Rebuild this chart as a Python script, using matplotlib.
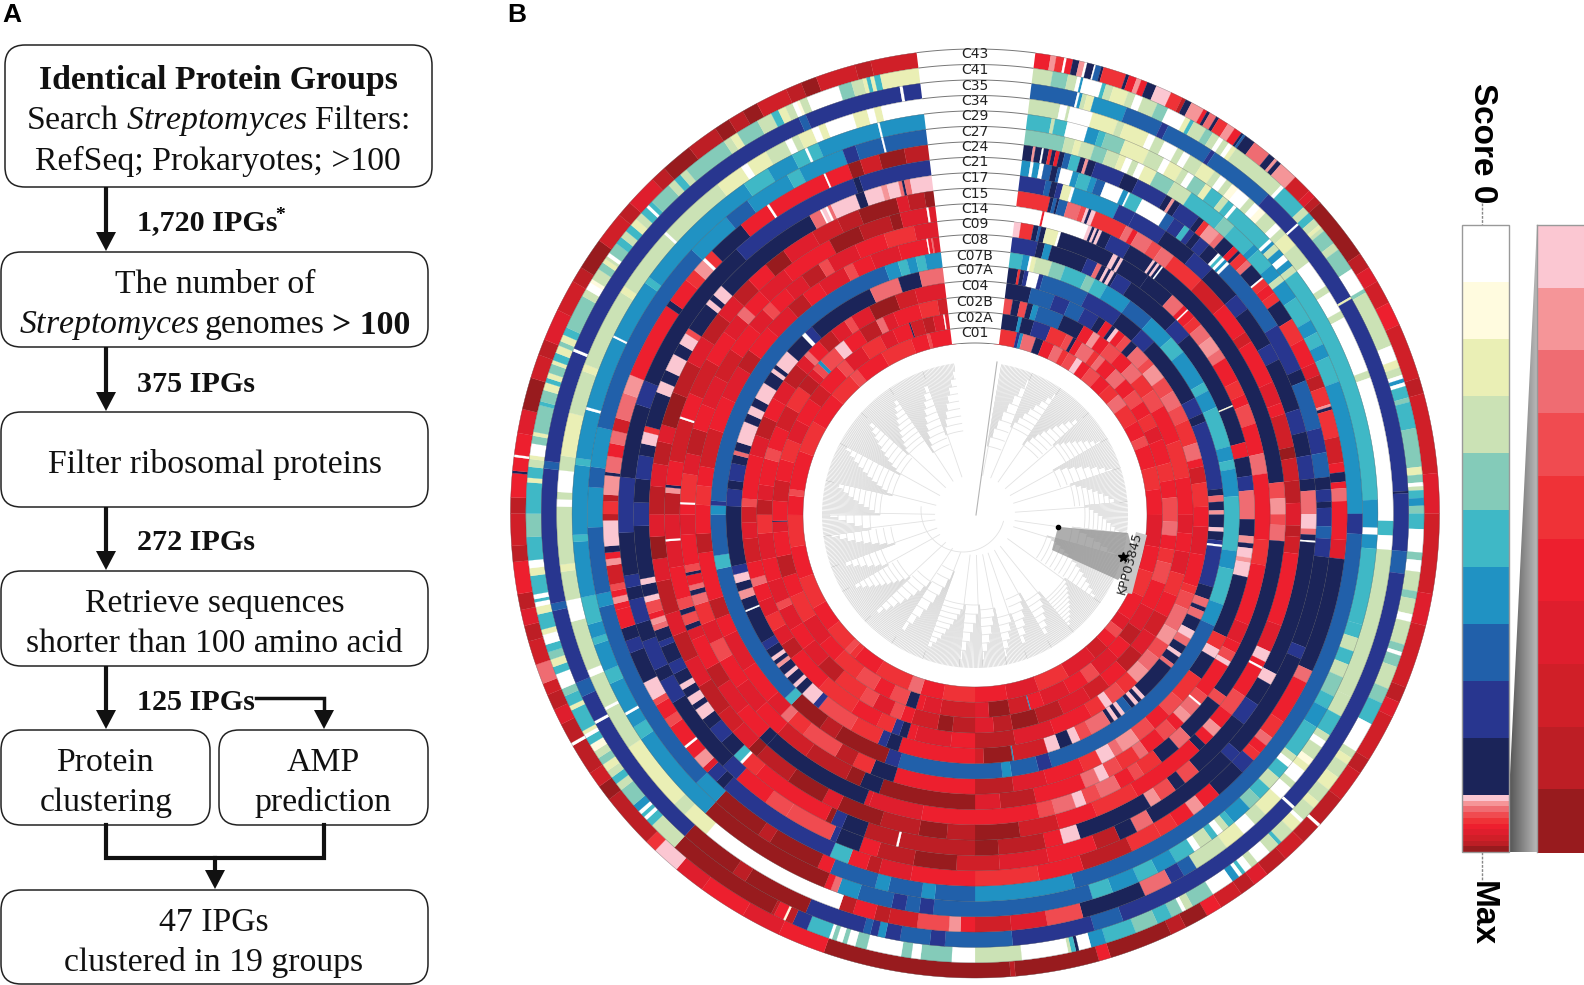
import numpy as np
import matplotlib
matplotlib.use('Agg')
import matplotlib.pyplot as plt
from matplotlib.collections import PolyCollection, LineCollection
from matplotlib.patches import FancyBboxPatch, Polygon, Rectangle

plt.rcParams['font.family'] = ['Liberation Serif', 'DejaVu Sans']
plt.rcParams['mathtext.fontset'] = 'custom'
plt.rcParams['mathtext.rm'] = 'Liberation Serif'
plt.rcParams['mathtext.it'] = 'Liberation Serif:italic'
plt.rcParams['mathtext.bf'] = 'Liberation Serif:bold'

# score scale: 0-9 cool steps, 10-19 red steps (the zoomed part of the colour bar)
COOL = ['#FFFFFF', '#FFFBDF', '#EAEFB5', '#CBE2B5', '#84CBB9', '#3FB8C6', '#2092C3', '#2160AA', '#28368F', '#1B2459']
REDS = ['#FBC7D2', '#F59598', '#EF6C72', '#F04B50', '#EF3237', '#ED1F2E', '#DF1E2D', '#D01F28', '#BD1E25', '#981B1E']

RING_NAMES = ['C43', 'C41', 'C35', 'C34', 'C29', 'C27', 'C24', 'C21', 'C17', 'C15', 'C14', 'C09', 'C08', 'C07B',
              'C07A', 'C04', 'C02B', 'C02A', 'C01']

# every ring: (start angle clockwise from north, score level)
C43 = [(8,15),(9.4,11),(10.1,14),(11.1,0),(11.4,15),(12.2,9),(13,11),(13.7,0),(14,9),(14.9,0),(15.1,7),(15.8,9),(16.1,14),(19,9),(19.4,15),(20.4,11),(21,15),(21.8,9),(23,10),(25,14),(26.5,18),(27,9),(27.8,11),(29.5,15),(30,9),(30.4,12),(31.3,9),(31.7,14),(33,11),(34,15),(35,9),(35.3,7),(35.6,9),(37,12),(39.3,9),(40.2,11),(40.6,9),(41.2,11),(43.6,17),(46,16),(47,18),(48,19),(56,18),(58,16),(60,17),(63,15),(66,17),(73,18),(75,17),(85,16),(90,17),(100,16),(104,17),(112,18),(114,16),(116,17),(122,18),(124,17),(128,18),(132,0),(132.4,18),(135,17),(138,18),(141,16),(143,18),(145,17),(148,15),(150,19),(153,18),(155,19),(163,15),(164.5,19),(175,18),(175.6,19),(199,15),(205,16),(210,15),(216,16),(220,10),(223.5,14),(225,18),(232,19),(234,17),(236,18),(240,0),(240.4,18),(243,16),(245,18),(247,17),(248.5,12),(251,17),(254,18),(256,16),(258,18),(260,15),(264,18),(266,17),(270,18),(272,15),(275,9),(275.3,15),(277,0),(277.3,15),(280,16),(283,19),(287,17),(290,18),(292,16),(296,17),(300,18),(302,19),(306,17),(310,18),(312,16),(316,18),(318,19),(322,18),(326,19),(328,18),(330,19),(332,17),(336,18),(338,19),(340,17),(345,18),(347,17)]
C41 = [(8,3),(10,4),(12,3),(13.2,0),(13.7,6),(14,0),(16.5,5),(17,3),(18,2),(20,3),(21,0),(22,3),(24,4),(25.5,0),(28,2),(28.7,5),(29.2,3),(31,4),(32,3),(33,0),(33.6,3),(34.4,0),(35,2),(35.6,3),(43,0),(43.5,5),(47,3),(48,5),(49,3),(50,2),(50.5,3),(51,4),(53,3),(54,4),(57,0),(60,4),(60.5,3),(68,0),(70,2),(71,3),(72,0),(72.5,6),(73,0),(73.5,5),(75,4),(75.6,5),(79,4),(84,2),(85,4),(86,0),(86.5,3),(87,5),(88,6),(89,4),(90,5),(92,0),(95,4),(96,0),(97.5,3),(100,4),(101,3),(103,0),(104,3),(107,4),(108,0),(108.5,4),(110,3),(113,4),(115,5),(118,0),(122,3),(123,2),(124,3),(126,2),(128,3),(130,2),(131,3),(133,0),(133.5,2),(135,3),(137,5),(137.5,3),(139,0),(141,3),(142,0),(143,5),(143.5,0),(144,6),(145,0),(148,4),(151,3),(152,0),(152.5,4),(154,5),(156,4),(159,5),(163,6),(165,0),(166.6,9),(167,5),(167.6,3),(168,0),(174,3),(180,0),(183,4),(187,0),(188.2,4),(189.5,0),(194,4),(195.5,0),(196.6,4),(197.2,0),(198,4),(198.6,0),(199,5),(202,8),(204,18),(205,1),(205.3,15),(206.6,18),(207,19),(222,3),(226,5),(227,0),(227.5,5),(228,0),(228.5,6),(229.5,4),(232,3),(233,5),(234,3),(235,2),(236,4),(237,3),(238,1),(239,5),(240,0),(240.5,2),(241,5),(244,2),(244.6,5),(246,4),(247,0),(249,5),(250,2),(251,4),(252,5),(253,0),(254.3,2),(255,5),(257,2),(258,0),(258.6,5),(259,0),(259.6,5),(262,2),(263,0),(264,5),(267,4),(270,5),(274,2),(274.6,5),(276,3),(277,2),(277.5,0),(279,4),(280,2),(280.5,4),(284,5),(284.5,4),(286,2),(287,5),(287.6,2),(288.3,4),(289.5,2),(290,5),(291,2),(292,4),(292.6,2),(293.5,5),(294.5,4),(299,3),(300,0),(301,1),(301.5,3),(303,4),(304,2),(304.6,3),(305,0),(305.5,4),(307,5),(308,3),(309,5),(310,2),(311,3),(312,5),(313,0),(313.4,5),(314,4),(317,3),(318,5),(319,3),(320,4),(326,3),(327,2),(328,4),(331,3),(333,5),(334,2),(335,3),(336,0),(336.6,1),(337,3),(338,0),(342.3,4),(344,3),(345.5,2),(346,5),(346.5,2),(347,5),(347.8,2)]
C35 = [(8,7),(13.7,0),(14,6),(14.4,3),(15,2),(16,6),(20.5,7),(25.6,8),(26.5,7),(33,8),(33.6,7),(42.6,8),(48,0),(48.3,8),(60,2),(60.3,8),(87,9),(87.3,8),(95,7),(98,8),(132.5,0),(132.9,8),(160,7),(164,8),(175,7),(184,8),(186,7),(190,8),(192,6),(193,8),(194,7),(195,8),(203,19),(212,18),(214,19),(222,8),(241,0),(241.4,8),(245,7),(247,8),(257,7),(258,8),(276,7),(277,8),(292,0),(292.4,8),(336,7),(337,8),(350,0),(350.4,8)]
C34 = [(8,3),(11.8,0),(12.8,3),(13.2,0),(16.4,2),(20,3),(21,2),(24.6,0),(25.6,3),(27,0),(29,3),(30,0),(31,3),(33,2),(35,3),(36,0),(37,3),(38,1),(39,0),(41,3),(42,0),(43,1),(44,3),(46,0),(47,3),(48,2),(50,3),(53,0),(57,3),(58,0),(61,3),(62,0),(70,3),(71,0),(91,5),(93,0),(95,3),(116,3),(119,5),(122,3),(123,0),(124,3),(126,1),(127,2),(128,0),(130,3),(131,0),(133,2),(136,3),(138,0),(140,2),(143,3),(148,7),(150,8),(152,12),(156,9),(165,13),(170,16),(175,17),(180,15),(182,11),(183.6,13),(188,17),(192,18),(194,15),(197,18),(199,0),(220,2),(224,3),(226,2),(236,3),(242,0),(242.4,3),(247,0),(248,3),(255,0),(258,3),(262,2),(263,3),(271,0),(272,3),(273,0),(276,3),(278,2),(284,3),(290,2),(291,3),(302,2),(303,3),(312,0),(312.4,3),(322,2),(326,0),(327,2),(330,3),(333,0),(334,3),(335,2),(337,0),(338,2),(339,0),(343,2),(345,0),(346,2),(347,0)]
C29 = [(8,5),(11,3),(11.5,5),(13.3,0),(16.3,6),(18,5),(19,4),(21.9,2),(25.6,3),(28,0),(29,2),(31,3),(32,0),(33,4),(35,2),(36,5),(38,3),(39,5),(40,0),(40.5,5),(47,0),(47.5,6),(48,3),(49,6),(50,0),(51,6),(52,3),(53,5),(88,6),(92,0),(93,6),(95,5),(106,5),(108,3),(110,5),(112,3),(114,4),(117,5),(119,6),(122,5),(127,3),(128,0),(129,5),(131,3),(133,5),(135,4),(137,6),(140,5),(141,3),(142,0),(143,5),(144,3),(146,0),(147,5),(150,6),(153,5),(156,6),(160,5),(163,7),(186,8),(188,7),(190,8),(192,7),(197,6),(200,12),(201,15),(202,19),(222,6),(236,5),(238,6),(240,0),(240.4,6),(245,5),(247,6),(251,5),(252,6),(254,5),(258,6),(266,5),(267,6),(277,5),(278,6),(285,0),(285.4,6),(296,0),(296.3,6),(305,5),(306,6),(325,5),(329,6),(333,5),(335,0),(335.4,5),(337,6),(346,0),(346.3,6)]
C27 = [(8,4),(13.5,3),(15,2),(16,3),(18,4),(20,3),(22,2),(23,0),(24,3),(25,0),(26,2),(28,4),(31,3),(34,5),(40,4),(42,5),(46,6),(47,5),(50,6),(52,3),(53,6),(56,5),(60,6),(62,5),(64,6),(66,5),(70,6),(90,8),(93,7),(165,6),(180,7),(186,6),(188,7),(193,6),(195,7),(202,15),(204,19),(212,18),(214,19),(222,6),(226,7),(256,6),(258,7),(268,6),(274,7),(277,6),(283,7),(313,6),(320,7),(324,6),(331,5),(333,6),(340,8),(342,7),(346,0),(346.3,7)]
C24 = [(8,9),(9,11),(9.4,9),(10.4,0),(10.7,9),(11.5,14),(12,9),(12.6,15),(13.2,9),(14,7),(15,5),(16.5,9),(17.3,11),(17.8,9),(19,8),(23.7,9),(26,8),(31,9),(32,11),(32.5,9),(33.5,8),(37,9),(38,14),(39,11),(41,12),(42,9),(44,15),(45,9),(45.5,14),(47,12),(48,9),(50.5,0),(50.8,14),(52,15),(53.5,14),(55,9),(58.4,14),(62,15),(66,16),(68,18),(70,14),(72.8,11),(73.2,9),(73.7,14),(78,17),(82,15),(83.5,9),(85,15),(86,12),(88,15),(94,16),(97,9),(115,12),(117,15),(124,14),(127,12),(128.5,15),(130,14),(131.5,8),(134,9),(139,15),(142,11),(144,15),(147,14),(150,14),(155,18),(163,15),(170,14),(180,15),(190,16),(195,18),(197,15),(200,5),(203,8),(222.5,9),(224,8),(226,16),(227,11),(229,15),(231,0),(231.4,15),(235,13),(236.5,15),(239,13),(240,10),(243,9),(248,8),(250,9),(252,15),(255,15),(256,11),(257,15),(258,13),(259,17),(262,11),(263,15),(264,9),(265,10),(269,18),(270,14),(272,18),(273,11),(276,9),(276.5,12),(279,15),(281,12),(283,17),(285,12),(289,11),(292,15),(304,9),(305,15),(309,14),(311,11),(313,0),(313.5,14),(315,9),(321,15),(326,0),(326.4,15),(336,0),(336.3,15),(340,19),(342,17),(345,19),(349,18)]
C21 = [(8,6),(9,0),(9.5,6),(10.5,0),(11.2,7),(12.5,9),(13.5,7),(14,0),(16,6),(17,5),(19,6),(20,7),(21.5,0),(24.6,6),(25.5,0),(25.8,5),(28,0),(32.5,7),(34,8),(36,5),(37,8),(38,9),(39.2,8),(41,9),(43,0),(43.5,5),(44,0),(44.5,6),(45,0),(45.5,7),(58,8),(66,9),(68,7),(76,8),(80,7),(84,9),(86,8),(88,9),(89,8),(92,7),(94,8),(97,9),(112,8),(114,9),(132,8),(134,9),(150,12),(153,9),(156,18),(160,15),(168,16),(176,17),(183,19),(190,18),(196,15),(199,9),(203,8),(204,13),(212,13),(216,15),(222,8),(225,9),(238,8),(242,9),(244,8),(249,9),(252,8),(256,9),(258,8),(260,9),(267,8),(276,9),(288,8),(292,9),(318,8),(340,9),(341,8)]
C17 = [(8,8),(12,7),(13,9),(14,8),(15,2),(16.5,0),(17,6),(25,8),(28,8),(34,9),(40,8),(44,9),(50,8),(53,9),(60,8),(63,9),(72,8),(76,9),(80,8),(84,9),(86,12),(90,10),(92.5,12),(93.5,9),(94.5,0),(94.8,9),(118,10),(120,9),(124,8),(128,9),(139,13),(142,9),(144,13),(147,11),(149,9),(162,10),(165,15),(168,18),(176,19),(180,18),(193,0),(193.4,18),(199,9),(203,8),(205,19),(206,15),(220,14),(223,0),(223.5,5),(225,9),(228,8),(231,9),(233,10),(235,9),(236,10),(237.5,9),(239,10),(240,9),(242,8),(244,9),(247,8),(248,9),(250,12),(251,11),(252,15),(253,13),(255,10),(256,9),(258,10),(259,9),(268,8),(272,9),(276,8),(280,9),(282,10),(284,14),(285,9),(291,10),(293,9),(295,10),(298,9),(300,10),(302,13),(303,9),(308,10),(309,9),(310,10),(312,9),(331,12),(333,0),(333.3,10),(334,0),(334.4,12),(335,10),(339.5,9),(341,10),(344,11),(345,10),(347,12),(347.6,9),(348,12),(349,10)]
C15 = [(8,14),(13.4,9),(14,7),(14.6,9),(15,7),(16.6,12),(19,13),(20,10),(20.5,9),(21,10),(21.8,14),(27.7,12),(29,15),(30,12),(33,13),(35,12),(37.6,14),(44,17),(50,15),(56,17),(58,15),(66,16),(70,15),(72,17),(78,19),(80,17),(84,18),(88,16),(92,18),(94,17),(97,15),(110,16),(115,10),(117,15),(118,0),(118.4,15),(124,13),(128,15),(131,11),(133,15),(135,9),(136.5,15),(150,14),(158,15),(165,17),(172,19),(180,18),(185,19),(190,18),(197,19),(205,16),(208,19),(215,18),(222,19),(224,16),(228,17),(232,18),(238,16),(243,18),(248,16),(252,18),(258,16),(262,19),(266,16),(270,18),(275,16),(279,18),(283,16),(286,19),(292,18),(298,16),(303,18),(308,16),(312,18),(316,15),(320,19),(324,16),(330,17),(335,18),(339,19),(346,16),(348,18),(351,19)]
C14 = [(8,0),(12.6,15),(13,0),(21.5,10),(22.2,9),(22.7,10),(23.2,9),(23.6,10),(24.2,9),(26,8),(30,9),(35,10),(35.5,9),(36,10),(36.5,9),(37,0),(37.3,9),(84,13),(87,11),(90,13),(92,12),(95,9),(126,13),(128,9),(136,12),(139,9),(143,14),(147,13),(149,15),(152,12),(156,13),(159,10),(161,12),(165,13),(168,15),(180,15),(190,16),(200,16),(201,9),(222,9),(224,15),(230,16),(236,18),(240,15),(246,16),(248,9),(249,13),(251,9),(252,13),(254,15),(260,16),(265,0),(265.4,16),(270,18),(274,11),(275,9),(275.5,15),(280,17),(288,0),(288.4,15),(293,17),(300,15),(306,16),(310,12),(312,15),(316,16),(322,15),(332,19),(338,18),(344,19),(346,16),(351,0),(351.4,16)]
C09 = [(8,10),(9,14),(11.5,9),(12.5,7),(13,9),(14,2),(16.5,0),(17,9),(28,10),(29,9),(29.6,10),(30.2,9),(36,9),(42,12),(45,15),(46,0),(46.3,15),(48,14),(50,12),(53,11),(56,12),(58,15),(63,14),(66,15),(68,13),(72,15),(78,12),(82,15),(95,14),(100,15),(112,16),(116,15),(118,13),(120,10),(121,15),(128,13),(130,0),(130.4,12),(133,11),(135,15),(137,13),(140,15),(144,12),(146,14),(150,13),(153,10),(155,12),(158,15),(168,18),(175,16),(180,19),(199,9),(203,19),(206,18),(215,17),(222,15),(228,16),(234,15),(240,13),(244,16),(248,14),(252,12),(254,9),(255,12),(256,15),(258,9),(258.6,13),(260,15),(266,16),(270,15),(272,0),(272.4,14),(278,16),(282,18),(287,15),(292,16),(298,17),(304,15),(310,16),(314,13),(316,15),(320,16),(324,18),(328,13),(330,16),(336,15),(342,14),(348,16)]
C08 = [(8,8),(13,9),(14.5,6),(16,9),(23.7,8),(26,12),(27,9),(28,10),(28.6,9),(29.2,10),(30,9),(30.6,8),(34,9),(46,8),(50,9),(67,1),(67.3,9),(75,15),(78,9),(82,8),(85,12),(91,9),(94.5,11),(96,9),(97,10),(99,11),(100,10),(103,9),(116,14),(119,10),(121,9),(126,14),(132,13),(136,15),(140,13),(144,11),(148,12),(150,10),(153,14),(157,15),(165,16),(172,18),(180,15),(197,9),(202,14),(206,18),(210,13),(218,14),(222,12),(224,16),(228,15),(236,16),(244,15),(248,18),(252,15),(262,18),(266,15),(272,14),(276,15),(280,17),(288,15),(295,16),(302,18),(306,15),(312,16),(318,18),(322,15),(326,16),(332,13),(334,15),(338,16),(344,15),(350,0),(350.3,15),(351,12),(351.3,16)]
C07B = [(8,5),(10.5,6),(12,0),(12.5,2),(13.5,3),(17,4),(20,5),(25,4),(27,5),(30,6),(36,7),(42,6),(48,5),(52,6),(60,5),(62,6),(66,5),(75,6),(78,5),(80,6),(86,5),(98,6),(102,5),(110,6),(115,7),(163,8),(166,7),(172,6),(174,7),(197,8),(200,19),(212,18),(216,19),(224,5),(226,7),(258,5),(261,7),(270,6),(272,8),(273,7),(340,6),(343,5),(345,6),(347,5),(349,6)]
C07A = [(8,9),(10,14),(10.6,9),(11.5,8),(12.5,0),(15,8),(16,7),(27,8),(36,9),(42,8),(46,9),(62,8),(66,9),(68,8),(84,9),(85.5,12),(87,9),(89,11),(90,9),(93,10),(94,9),(96,8),(97,0),(97.5,8),(107,9),(110,12),(112,9),(113,12),(115,9),(118,10),(120,12),(122,9),(124,10),(125,9),(127,12),(128,9),(137,10),(138,9),(139,10),(140,9),(141,7),(143,10),(144,9),(145,10),(146,9),(147,12),(152,13),(155,10),(157,9),(160,10),(163,17),(171,6),(171.3,19),(178,17),(180,15),(198,9),(201,8),(203,14),(210,13),(219,8),(220.5,10),(224,9),(226,10),(227,9),(229,10),(230,9),(232,11),(233,9),(234,10),(235,9),(237,8),(239,9),(247,0),(247.4,9),(250,11),(252,9),(254,10),(256,8),(258,9),(272,8),(276,9),(278,8),(282,9),(284,12),(285,9),(287,10),(292,9),(294,10),(296,9),(298,10),(302,9),(305,10),(306,9),(307,10),(311,9),(316,0),(317,8),(319,9),(335,12),(342,9),(347,12)]
C04 = [(8,9),(14,7),(20,8),(24,7),(28,8),(32,9),(34,15),(36,9),(37,10),(38,15),(40,13),(42,9),(44,12),(48,13),(50,11),(54,13),(58,12),(62,13),(66,14),(72,12),(76,15),(78,17),(82,14),(88,15),(93,16),(100,15),(108,14),(110,13),(114,12),(120,11),(124,13),(128,12),(132,11),(136,14),(140,13),(144,10),(146,14),(150,15),(160,16),(170,18),(180,15),(186,16),(195,15),(197,9),(199,8),(201,14),(205,15),(212,14),(222,15),(232,18),(236,16),(240,14),(244,16),(248,15),(252,12),(254,15),(258,17),(264,16),(268,17),(272,13),(274,15),(285,16),(290,18),(295,15),(300,16),(305,18),(310,16),(313,12),(314.5,15),(318,18),(322,16),(326,13),(328,16),(333,19),(340,17),(345,16)]
C02B = [(8,13),(10,9),(12,13),(14,9),(15.5,6),(17,7),(24,9),(30,15),(33,11),(35,15),(38,13),(42,15),(46,12),(50,14),(55,13),(60,15),(70,14),(80,15),(90,16),(95,15),(100,16),(106,14),(112,15),(118,17),(124,16),(130,18),(136,15),(142,17),(148,16),(156,18),(163,19),(170,18),(175,16),(180,18),(186,19),(190,17),(197,15),(200,13),(203,16),(208,13),(212,14),(220,18),(226,16),(232,15),(238,16),(244,13),(246,16),(252,15),(258,16),(265,14),(270,18),(274,16),(278,15),(285,13),(288,15),(294,17),(300,14),(306,18),(310,16),(312,13),(314,6),(315,13),(320,10),(323,15),(328,18),(333,12),(335,16),(338,15),(345,14),(350,17)]
C02A = [(8,9),(12.5,6),(13.5,9),(17,8),(22,14),(27,13),(29,9),(30,15),(32,12),(36,14),(38,12),(40,15),(44,12),(48,15),(52,13),(56,15),(60,14),(64,16),(68,15),(75,14),(80,15),(85,13),(92,12),(96,15),(100,14),(104,13),(110,15),(118,16),(125,18),(130,15),(135,16),(142,13),(146,15),(152,16),(160,15),(164,6),(164.3,17),(170,19),(176,16),(180,17),(190,16),(195,15),(197,9),(200,13),(205,15),(210,13),(216,14),(224,15),(230,16),(238,14),(246,15),(252,18),(258,15),(265,16),(268,9),(268.3,15),(274,17),(280,15),(286,14),(292,16),(298,15),(305,17),(310,15),(317,13),(320,16),(326,14),(332,16),(336,15),(341,9),(341.4,17),(345,18),(348,16),(351,0),(351.4,16)]
C01 = [(8,14),(13,8),(14,6),(15,12),(19,9),(21.5,15),(25,12),(28,14),(30,13),(33,10),(35,15),(38,13),(42,15),(46,14),(50,12),(54,14),(60,15),(65,13),(68,15),(75,14),(82,15),(90,16),(100,15),(108,14),(116,15),(124,16),(128,13),(131,15),(135,17),(140,16),(150,14),(160,16),(170,15),(180,14),(190,15),(197,12),(201,14),(212,15),(220,14),(222,13),(224,14),(232,15),(240,14),(250,15),(260,14),(270,15),(276,13),(278,15),(290,14),(300,15),(310,14),(318,13),(321,15),(330,14),(340,15),(345,13),(346,15)]
RINGS = [C43, C41, C35, C34, C29, C27, C24, C21, C17, C15, C14, C09, C08, C07B, C07A, C04, C02B, C02A, C01]

# tree clades: first tip angle, last tip angle, radius where the clade starts
CLADES = [(10,22,70),(22,34,95),(34,48,85),(48,60,105),(60,72,90),(72,85,100),(85,97,110),(97,106,98),(106,125,75),
          (125,140,110),(140,150,100),(150,160,90),(160,168,105),(168,177,95),(177,186,90),(186,200,90),(200,213,60),
          (213,226,80),(226,240,90),(240,250,100),(250,262,85),(262,270,105),(270,283,95),(283,298,85),(298,312,85),
          (312,326,90),(326,340,75),(340,352,85)]

# flowchart boxes: left, top, right, bottom
BOXES = [(5,45,432,187),(1,252,428,347),(1,412,428,507),(1,571,428,666),(1,730,210,825),(219,730,428,825),(1,890,428,984)]
COUNT_LABELS = ['1,720 IPGs', '375 IPGs', '272 IPGs', '125 IPGs']

fig = plt.figure(figsize=(15.84, 9.85), dpi=100)
ax = fig.add_axes([0, 0, 1, 1])
ax.set_xlim(0, 1584)
ax.set_ylim(985, 0)
ax.axis('off')

R_IN, R_OUT = 172.0, 464.5
RING_W = (R_OUT - R_IN) / len(RINGS)


def ring_xy(r, deg):
    t = (r - R_IN) / (R_OUT - R_IN)
    cy = 515 - 1.5 * t
    a = np.radians(deg)
    return 975 + r * np.sin(a), cy - r * np.cos(a)


def sector(r0, r1, a0, a1):
    aa = np.arange(a0, a1, 0.6)
    aa = np.append(aa, a1)
    x1, y1 = ring_xy(r1, aa)
    x0, y0 = ring_xy(r0, aa[::-1])
    return np.column_stack([np.r_[x1, x0], np.r_[y1, y0]])


levels = COOL + REDS
polys, cols = [], []
for i, runs in enumerate(RINGS):
    r1 = R_OUT - i * RING_W
    r0 = r1 - RING_W
    runs = sorted(runs)
    for j, (a, lev) in enumerate(runs):
        a0 = a if j > 0 else 5
        a1 = runs[j + 1][0] if j + 1 < len(runs) else 356
        polys.append(sector(r0, r1, a0, a1))
        cols.append(levels[lev])
ax.add_collection(PolyCollection(polys, facecolors=cols, edgecolors=cols, linewidths=0.15, zorder=2))

# thin ring borders
for i in range(len(RINGS) + 1):
    r = R_OUT - i * RING_W
    aa = np.linspace(0, 360, 721)
    x, y = ring_xy(r, aa)
    ax.plot(x, y, color='#444444', lw=0.4, alpha=0.45, zorder=3)

# label gap at the top
gap = Polygon([(916, 48), (1036, 48), (999, 344), (952, 344)], closed=True, fc='white', ec='none', zorder=4)
ax.add_patch(gap)
for i in range(len(RINGS) + 1):
    r = R_OUT - i * RING_W
    x, y = ring_xy(r, np.linspace(-12, 12, 60))
    ln, = ax.plot(x, y, color='#777777', lw=0.7, zorder=5)
    ln.set_clip_path(gap)

LABEL_Y = [54, 70, 85.5, 101, 116.5, 132, 147, 162.5, 178, 193.5, 209, 224.5, 240, 255.5, 270.5, 286.5, 302, 317.5, 333]
for name, y in zip(RING_NAMES, LABEL_Y):
    ax.text(975, y, name, ha='center', va='center', fontsize=10, family='DejaVu Sans', color='#222222', zorder=6)

# tree inside the rings
TX, TY, TR = 975, 515, 153
tips, branches = [], []
arc_pts = np.linspace(-75, 95, 80)
branches.append(np.column_stack([TX - 12 + 42 * np.sin(np.radians(arc_pts + 180)), TY - 5 - 42 * np.cos(np.radians(arc_pts + 180))]))
for a0, a1, rb in CLADES:
    n = max(int((a1 - a0) / 0.45), 3)
    step = 3
    aa = np.linspace(a0, a1, n)
    for k, a in enumerate(aa):
        stair = rb + (TR - 8 - rb) * (k // step) / max((n - 1) // step, 1)
        s, c = np.sin(np.radians(a)), np.cos(np.radians(a))
        tips.append([(TX + stair * s, TY - stair * c), (TX + TR * s, TY - TR * c)])
    mid = np.radians(a0 + 1)
    branches.append([(TX + 40 * np.sin(mid), TY - 40 * np.cos(mid)), (TX + rb * np.sin(mid), TY - rb * np.cos(mid))])
    for k in range(0, n - 1, step):
        stair = rb + (TR - 8 - rb) * (k // step) / max((n - 1) // step, 1)
        arc = np.radians(np.linspace(aa[k], a1, 12))
        branches.append(np.column_stack([TX + stair * np.sin(arc), TY - stair * np.cos(arc)]))
ax.add_collection(LineCollection(tips, colors='#bdbdbd', linewidths=0.3, zorder=2))
ax.add_collection(LineCollection(branches, colors='#e2e2e2', linewidths=0.6, zorder=2))
ax.plot([976, 997], [515, 362], color='#b5b5b5', lw=0.8, zorder=2)

# highlighted clade
ax.add_patch(Polygon([(1058, 527), (1128, 533), (1135, 560), (1118, 580), (1052, 550)], closed=True, fc='#8c8c8c', ec='none', alpha=0.7, zorder=3))
ax.add_patch(Polygon([(1121, 592), (1132, 594), (1147, 535), (1136, 532)], closed=True, fc='#c9c9c9', ec='none', zorder=3))
ax.text(1130, 563, 'KPP03845', rotation=75, ha='center', va='center', fontsize=9.2, family='DejaVu Sans', color='#222222', zorder=6)
ax.plot([1058], [527], 'o', color='black', ms=3, zorder=6)
ax.plot([1123], [557], '*', color='black', ms=7, zorder=6)

# flowchart
for l, t, r, b in BOXES:
    ax.add_patch(FancyBboxPatch((l + 16, t + 16), r - l - 32, b - t - 32, boxstyle='round,pad=16,rounding_size=20',
                                fc='white', ec='#222222', lw=1.1, zorder=2, clip_on=False))


def txt(x, y, s, **kw):
    ax.text(x, y, s, ha=kw.pop('ha', 'center'), va='center', fontsize=kw.pop('fontsize', 24.3), color='#111111', zorder=4, **kw)


txt(218, 81, 'Identical Protein Groups', weight='bold')
txt(218, 121, r'Search $\mathit{Streptomyces}$ Filters:')
txt(218, 161, 'RefSeq; Prokaryotes; >100')
txt(215, 285, 'The number of')
txt(19, 325, r'$\mathit{Streptomyces}$', ha='left')
txt(205, 325, 'genomes', ha='left')
txt(332, 325, '> 100', ha='left', weight='bold')
txt(215, 465, 'Filter ribosomal proteins')
txt(215, 604, 'Retrieve sequences')
txt(214, 644, 'shorter than 100 amino acid')
txt(105, 763, 'Protein')
txt(106, 803, 'clustering')
txt(323, 763, 'AMP')
txt(323, 803, 'prediction')
txt(214, 923, '47 IPGs')
txt(214, 963, 'clustered in 19 groups')
for y, s in zip([223, 384, 543, 702], COUNT_LABELS):
    txt(137, y, s, ha='left', weight='bold', fontsize=21.7)
ax.text(275, 215, '*', ha='left', va='center', fontsize=14, weight='bold')
for y0, y1 in [(187, 251), (347, 411), (507, 570), (666, 729)]:
    ax.plot([106, 106], [y0, y1 - 15], color='#111111', lw=3, solid_capstyle='butt', zorder=3)
    ax.add_patch(Polygon([(96, y1 - 19), (116, y1 - 19), (106, y1)], closed=True, fc='#111111', ec='none', zorder=3))
ax.plot([256, 324, 324], [698, 698, 715], color='#111111', lw=2.5, solid_joinstyle='miter', zorder=3)
ax.add_patch(Polygon([(314, 710), (334, 710), (324, 729)], closed=True, fc='#111111', ec='none', zorder=3))
ax.plot([106, 106, 324, 324], [825, 858, 858, 825], color='#111111', lw=3, solid_joinstyle='miter', zorder=3)
ax.plot([215, 215], [858, 875], color='#111111', lw=3, zorder=3)
ax.add_patch(Polygon([(205, 870), (225, 870), (215, 889)], closed=True, fc='#111111', ec='none', zorder=3))

ax.text(2, 15, 'A', ha='left', va='center', fontsize=19, weight='bold', family='Liberation Sans')
ax.text(507, 15, 'B', ha='left', va='center', fontsize=19, weight='bold', family='Liberation Sans')

# colour bar
X0, X1 = 1462, 1509
BAR_T, BAR_B = 225, 852
step = (BAR_B - BAR_T) / 11
for i, c in enumerate(COOL):
    ax.add_patch(Rectangle((X0, BAR_T + i * step), X1 - X0, step + 0.5, fc=c, ec='none', zorder=2))
for i, c in enumerate(REDS):
    ax.add_patch(Rectangle((X0, BAR_T + 10 * step + i * step / 10), X1 - X0, step / 10 + 0.3, fc=c, ec='none', zorder=2))
ax.add_patch(Rectangle((X0, BAR_T), X1 - X0, BAR_B - BAR_T, fc='none', ec='#999999', lw=1, zorder=3))
X2 = 1537
red_step = (BAR_B - BAR_T) / 10
for i, c in enumerate(REDS):
    ax.add_patch(Rectangle((X2, BAR_T + i * red_step), 60, red_step + 0.5, fc=c, ec='none', zorder=2))
ax.plot([X2, X2], [BAR_T, BAR_B], color='#999999', lw=1, zorder=3)
ax.plot([X2, 1584], [BAR_T, BAR_T], color='#999999', lw=1, zorder=3)
wedge = Polygon([(X1, BAR_T + 10 * step), (X2, BAR_T), (X2, BAR_B), (X1, BAR_B)], closed=True, fc='none', ec='none')
ax.add_patch(wedge)
grad = ax.imshow(np.linspace(0.33, 0.72, 64).reshape(1, -1), extent=[X1, X2, BAR_B, BAR_T], cmap='gray', vmin=0, vmax=1,
                 aspect='auto', zorder=2)
grad.set_clip_path(wedge)
ax.set_xlim(0, 1584)
ax.set_ylim(985, 0)
ax.plot([1482, 1482], [203, 225], color='#888888', lw=1, ls=(0, (2, 1)), zorder=1)
ax.plot([1482, 1482], [852, 880], color='#888888', lw=1, ls=(0, (2, 1)), zorder=1)
ax.text(1482, 143, 'Score 0', rotation=270, ha='center', va='center', fontsize=24, weight='bold', family='Liberation Sans')
ax.text(1482, 914, 'Max', rotation=270, ha='center', va='center', fontsize=24, weight='bold', family='Liberation Sans')

fig.savefig('out.png', dpi=100)
